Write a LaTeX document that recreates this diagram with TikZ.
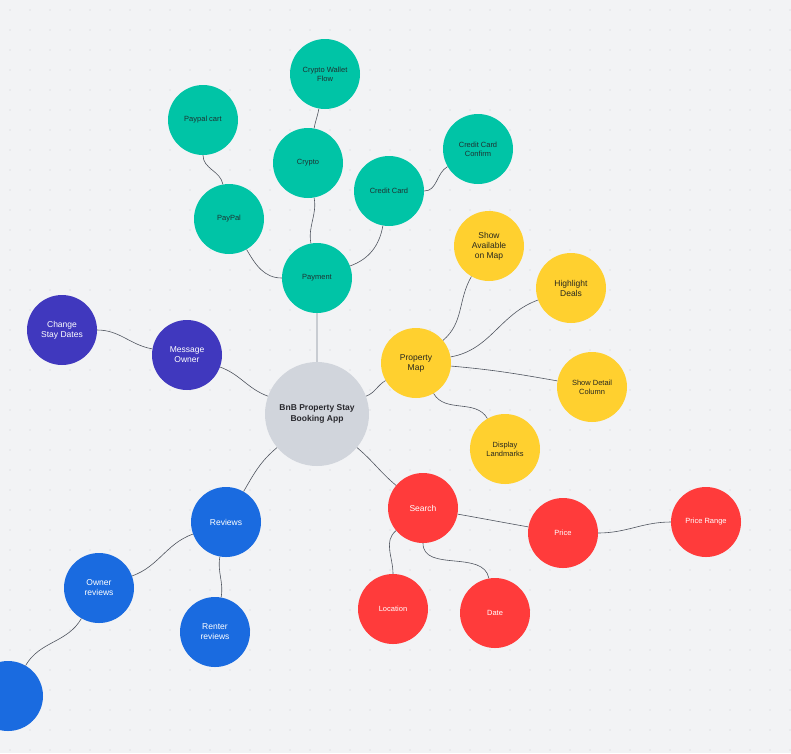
\documentclass[tikz,border=0pt]{standalone}
\usepackage{fontspec}
\setmainfont{Liberation Sans}
\definecolor{bg}{RGB}{242,243,245}
\definecolor{dotc}{RGB}{205,208,214}
\definecolor{tealc}{RGB}{0,196,166}
\definecolor{tealt}{RGB}{30,50,50}
\definecolor{yelc}{RGB}{255,208,47}
\definecolor{yelt}{RGB}{40,40,30}
\definecolor{purc}{RGB}{64,56,190}
\definecolor{bluc}{RGB}{26,107,224}
\definecolor{redc}{RGB}{255,59,59}
\definecolor{grayc}{RGB}{209,213,220}
\definecolor{grayt}{RGB}{40,40,45}
\definecolor{lnkc}{RGB}{80,85,95}
\definecolor{lnkl}{RGB}{200,204,210}
\begin{document}
\begin{tikzpicture}[x=1pt,y=-1pt,
  bub/.style={circle,minimum size=70pt,inner sep=0pt,align=center,font=\fontsize{7.5}{9}\selectfont},
  teal/.style={bub,fill=tealc,text=tealt},
  yel/.style={bub,fill=yelc,text=yelt},
  pur/.style={bub,fill=purc,text=white},
  blu/.style={bub,fill=bluc,text=white},
  rd/.style={bub,fill=redc,text=white},
  lnk/.style={draw=lnkc,line width=0.6pt}]
\useasboundingbox (0,0) rectangle (791,753);
\fill[bg] (0,0) rectangle (791,753);
\foreach \i in {0,...,39}{\foreach \j in {0,...,37}{\fill[dotc] (\i*20+10,\j*20+10) circle (0.6pt);}}
\node[bub,minimum size=104pt,fill=grayc,font=\bfseries\fontsize{8.5}{11}\selectfont,text=grayt] (c) at (317,414) {BnB Property Stay\\Booking App};
\node[teal] (pay) at (317,278) {Payment};
\node[teal] (pp) at (229,219) {PayPal};
\node[teal] (ppc) at (203,120) {Paypal cart};
\node[teal] (cr) at (308,163) {Crypto};
\node[teal] (crw) at (325,74) {Crypto Wallet\\Flow};
\node[teal] (cc) at (389,191) {Credit Card};
\node[teal] (ccc) at (478,149) {Credit Card\\Confirm};
\node[yel,font=\fontsize{8.5}{10}\selectfont] (pm) at (416,363) {Property\\Map};
\node[yel,font=\fontsize{8.5}{10}\selectfont] (sa) at (489,246) {Show\\Available\\on Map};
\node[yel,font=\fontsize{8.5}{10}\selectfont] (hd) at (571,288) {Highlight\\Deals};
\node[yel] (sd) at (592,387) {Show Detail\\Column};
\node[yel] (dl) at (505,449) {Display\\Landmarks};
\node[pur,font=\fontsize{8.5}{10}\selectfont] (mo) at (187,355) {Message\\Owner};
\node[pur,font=\fontsize{8.5}{10}\selectfont] (csd) at (62,330) {Change\\Stay Dates};
\node[blu,font=\fontsize{8.5}{10}\selectfont] (rv) at (226,522) {Reviews};
\node[blu,font=\fontsize{8.5}{10}\selectfont] (or) at (99,588) {Owner\\reviews};
\node[blu,font=\fontsize{8.5}{10}\selectfont] (rr) at (215,632) {Renter\\reviews};
\node[blu] (bx) at (8,696) {};
\node[rd,font=\fontsize{8.5}{10}\selectfont] (se) at (423,508) {Search};
\node[rd] (pr) at (563,533) {Price};
\node[rd] (prr) at (706,522) {Price Range};
\node[rd] (lo) at (393,609) {Location};
\node[rd] (da) at (495,613) {Date};
\draw[draw=lnkl,line width=1.2pt] (c) -- (pay);
\draw[lnk] (pay) to[out=180,in=-60] (pp);
\draw[lnk] (pp) to[out=100,in=-90] (ppc);
\draw[lnk] (pay) to[out=100,in=-80] (cr);
\draw[lnk] (cr) to[out=80,in=-100] (crw);
\draw[lnk] (pay) to[out=20,in=-100] (cc);
\draw[lnk] (cc) to[out=0,in=-150] (ccc);
\draw[lnk] (c) to[out=20,in=-150] (pm);
\draw[lnk] (pm) to[out=40,in=-120] (sa);
\draw[lnk] (pm) to[out=10,in=-160] (hd);
\draw[lnk] (pm) to[out=-5,in=170] (sd);
\draw[lnk] (pm) to[out=-60,in=120] (dl);
\draw[lnk] (c) to[out=160,in=-20] (mo);
\draw[lnk] (mo) to[out=170,in=0] (csd);
\draw[lnk] (c) to[out=-140,in=60] (rv);
\draw[lnk] (rv) to[out=-160,in=20] (or);
\draw[lnk] (rv) to[out=-100,in=80] (rr);
\draw[lnk] (or) to[out=-120,in=60] (bx);
\draw[lnk] (c) to[out=-40,in=140] (se);
\draw[lnk] (se) to[out=-10,in=170] (pr);
\draw[lnk] (pr) to[out=0,in=180] (prr);
\draw[lnk] (se) to[out=-140,in=90] (lo);
\draw[lnk] (se) to[out=-90,in=100] (da);
\end{tikzpicture}
\end{document}
